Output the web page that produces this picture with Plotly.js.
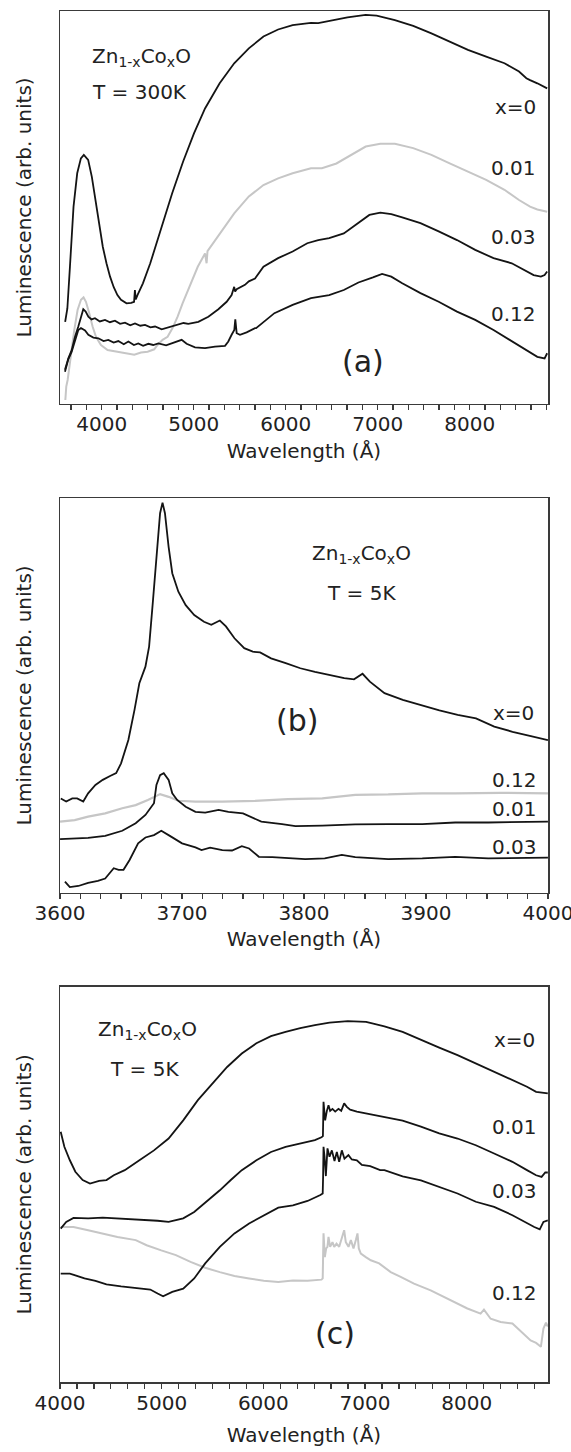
<!DOCTYPE html>
<html>
<head>
<meta charset="utf-8">
<script src="https://cdn.plot.ly/plotly-3.0.1.min.js"></script>
<style>html,body{margin:0;padding:0;background:#fff;}#chart{width:571px;height:1452px;}</style>
</head>
<body>
<div id="chart"></div>
<script>
// ---------- Panel (a): T = 300K ----------
const a_x0_wl  = [3603,3627,3655,3694,3734,3774,3806,3853,3893,3933,3972,4012,4052,4091,4131,4171,4210,4270,4321,4352,4361,4370,4389,4448,4528,4607,4686,4766,4885,5004,5123,5282,5440,5599,5758,5917,6075,6274,6353,6472,6671,6869,6988,7186,7385,7583,7782,7980,8178,8377,8535,8615,8655,8734,8841];
const a_x0_lum = [20.9,24.3,34.9,50.2,58.7,62.5,63.4,62.1,57.8,51.9,46.0,40.0,35.8,32.4,29.7,27.7,26.5,25.6,25.7,26.0,29.0,26.6,27.7,30.7,35.8,41.7,47.7,53.6,61.7,68.9,75.2,81.6,86.7,90.5,93.5,95.3,96.4,97.0,96.9,97.5,98.4,99.0,98.8,97.7,96.2,94.3,92.2,90.1,88.4,86.7,84.6,82.9,82.4,81.6,80.3];

const a_x01_wl  = [3605,3615,3630,3648,3666,3702,3738,3775,3803,3829,3865,3901,3938,3992,4064,4173,4281,4354,4427,4499,4571,4607,4662,4716,4770,4825,4879,4933,4970,5044,5123,5140,5150,5282,5440,5599,5758,5917,6075,6274,6393,6551,6710,6869,7028,7186,7385,7583,7782,7980,8178,8377,8535,8655,8734,8841];
const a_x01_lum = [1.0,4.4,6.1,9.5,12.9,18.8,23.9,26.5,27.1,26.0,23.1,19.7,17.1,15.0,13.7,13.3,12.9,12.5,13.1,13.3,13.9,15.0,16.3,17.1,19.3,22.2,25.6,28.6,30.7,34.9,38.3,35.8,38.9,43.4,48.5,52.8,55.7,57.4,58.7,60.0,60.0,61.2,63.4,65.5,66.2,66.2,65.1,63.4,61.2,59.1,57.0,54.5,51.9,50.2,49.5,48.9];

const a_x03_wl  = [3601,3638,3674,3710,3746,3775,3800,3826,3855,3890,3927,3980,4036,4090,4144,4200,4253,4310,4362,4420,4471,4530,4580,4652,4724,4780,4833,4890,4941,5050,5159,5268,5358,5412,5440,5450,5467,5557,5599,5666,5758,5917,6075,6234,6353,6472,6631,6790,6909,7028,7147,7266,7464,7662,7861,8059,8258,8456,8575,8694,8773,8813,8841];
const a_x03_lum = [8.7,11.6,13.7,17.1,19.7,22.2,24.1,23.5,22.2,21.5,21.8,21.0,21.4,20.8,21.2,20.4,20.7,20.0,20.5,19.9,20.1,19.5,19.7,19.0,19.5,19.8,20.1,20.6,20.4,20.9,22.2,24.1,26.0,27.7,29.8,28.6,29.2,30.3,31.2,31.9,34.9,37.1,38.8,40.9,41.7,42.2,43.4,46.0,48.1,48.7,48.3,47.5,46.0,43.9,41.7,39.2,37.1,35.8,34.3,32.8,32.4,32.8,33.7];

const a_x12_wl  = [3601,3638,3674,3718,3746,3775,3819,3855,3910,3964,4020,4072,4130,4181,4240,4290,4350,4398,4450,4507,4560,4616,4700,4760,4869,4923,5014,5123,5231,5340,5376,5412,5441,5452,5467,5503,5575,5666,5678,5877,6075,6274,6472,6631,6790,6948,7047,7147,7266,7464,7662,7861,8059,8258,8456,8615,8734,8813,8841];
const a_x12_lum = [8.2,11.4,13.3,17.1,18.8,19.3,18.7,17.6,16.9,16.7,16.0,16.3,15.6,16.0,15.2,15.9,15.0,15.4,14.8,15.3,15.0,15.4,14.9,15.4,16.3,15.3,14.4,14.2,14.6,14.8,15.9,17.6,18.8,21.5,18.0,17.6,18.2,19.3,19.3,23.1,25.2,26.9,27.7,29.0,30.9,32.2,33.1,32.4,30.7,28.2,26.0,23.5,21.4,18.8,15.9,13.7,12.0,11.6,12.9];

// ---------- Panel (b): T = 5K, 3600-4000 A ----------
const b_x0_wl  = [3600.6,3605,3610,3614,3619,3623,3629,3635,3641,3646,3650,3656,3661,3665,3670,3673,3676,3679,3682,3684,3686,3689,3692,3697,3703,3710,3718,3724,3731,3736,3743,3751,3758,3764,3773,3785,3797,3809,3821,3833,3841,3848,3854,3866,3881,3896,3911,3926,3941,3956,3971,3986,4000];
const b_x0_lum = [23.9,23.1,23.9,23.9,23.1,25.2,27.3,28.6,29.6,30.3,32.8,38.7,46.3,53.1,57.3,62.4,73.4,86.1,96.2,98.9,96.2,87.7,81.0,76.3,72.9,70.4,68.7,67.9,69.0,67.5,64.5,62.0,61.1,60.9,59.4,58.2,56.9,56.0,55.2,54.4,54.1,55.5,53.5,50.6,48.9,47.6,46.2,45.1,44.2,42.1,40.8,39.7,38.7];

const b_x12_wl  = [3600,3612,3623,3637,3651,3662,3672,3682,3689,3697,3711,3733,3760,3787,3815,3842,3869,3897,3924,3961,4000];
const b_x12_lum = [18.0,18.4,19.3,20.1,21.4,22.2,23.5,25.0,24.3,23.3,23.1,23.1,23.3,23.7,23.9,24.8,24.9,25.2,25.2,25.3,25.2];

const b_x01_wl  = [3600,3612,3623,3637,3651,3662,3670,3677,3679,3682,3685,3689,3692,3696,3703,3711,3719,3730,3738,3750,3757,3765,3782,3793,3815,3842,3869,3897,3924,3951,4000];
const b_x01_lum = [13.6,13.8,13.9,14.4,15.7,17.6,19.7,22.7,27.3,29.8,30.3,28.6,25.2,23.5,21.8,20.5,20.3,21.0,20.5,20.1,19.1,18.0,17.4,16.9,17.0,17.3,17.4,17.4,17.8,17.8,18.0];

const b_x03_wl  = [3604,3608,3615,3623,3631,3637,3644,3648,3652,3657,3664,3670,3677,3683,3690,3700,3711,3716,3723,3733,3741,3749,3755,3763,3774,3801,3817,3831,3842,3869,3897,3924,3951,4000];
const b_x03_lum = [2.8,1.4,1.7,2.5,3.0,3.6,6.2,5.8,5.8,8.3,12.5,14.0,14.6,15.7,14.4,12.5,11.5,10.8,11.4,10.8,10.7,11.8,11.2,9.1,9.0,8.5,8.7,9.6,9.0,8.5,8.7,9.1,8.7,8.9];

// ---------- Panel (c): T = 5K, 4000-8800 A ----------
const c_x0_wl  = [4007,4043,4097,4151,4223,4295,4385,4457,4529,4637,4781,4924,5068,5212,5356,5500,5644,5788,5932,6075,6219,6363,6507,6651,6831,7011,7191,7370,7550,7730,7910,8090,8270,8450,8593,8683,8798];
const c_x0_lum = [63.3,59.5,56.1,53.2,51.1,50.2,50.9,51.1,52.3,53.6,56.1,58.6,61.6,66.2,71.3,75.5,79.7,83.1,85.7,87.5,88.6,89.5,90.3,90.9,91.3,91.1,90.0,88.6,86.5,84.6,82.7,80.6,78.5,76.4,74.7,73.4,73.0];

const c_x01_wl  = [4007,4061,4133,4277,4421,4565,4781,4960,5068,5212,5320,5428,5572,5680,5788,5932,6075,6219,6363,6507,6572,6586,6592,6608,6625,6641,6657,6680,6707,6739,6766,6795,6821,6854,6920,7018,7149,7191,7370,7550,7730,7910,8090,8270,8450,8593,8683,8737,8773,8798];
const c_x01_lum = [38.8,40.5,41.5,41.4,41.6,41.4,41.1,40.8,40.5,41.4,43.0,45.3,48.5,51.1,53.6,56.1,58.2,59.5,60.3,61.2,61.9,62.2,70.9,66.2,68.6,70.0,68.6,69.1,68.4,69.1,68.6,70.5,69.6,68.9,68.4,67.9,67.3,67.1,66.1,64.6,62.9,61.6,59.9,57.8,55.7,53.6,52.3,51.9,53.0,53.0];

const c_x03_wl  = [4007,4097,4151,4241,4349,4457,4601,4781,4888,4960,5014,5104,5212,5320,5428,5572,5716,5860,6004,6147,6291,6435,6561,6584,6588,6592,6602,6615,6631,6651,6674,6700,6723,6746,6772,6798,6837,6870,6920,6969,7051,7149,7191,7370,7550,7730,7910,8090,8270,8450,8593,8665,8719,8755,8798];
const c_x03_lum = [27.4,27.4,27.0,26.2,25.6,24.7,24.2,23.6,23.4,22.4,21.7,22.8,23.6,26.2,30.0,34.2,37.6,40.1,42.2,44.1,44.7,45.8,47.3,47.7,52.0,59.5,57.0,52.1,59.1,57.0,58.6,55.9,58.2,55.7,58.6,56.5,57.4,56.3,56.1,54.9,54.6,53.6,53.6,52.0,51.0,49.4,47.7,45.6,44.3,42.2,40.1,39.2,38.6,40.5,40.9];

const c_x12_wl  = [4007,4133,4277,4421,4565,4745,4852,4996,5140,5284,5428,5572,5716,5860,6004,6147,6291,6435,6572,6584,6592,6605,6618,6631,6641,6657,6680,6697,6720,6746,6779,6795,6811,6838,6861,6887,6910,6926,6939,6959,7008,7057,7139,7253,7351,7482,7646,7810,7941,8007,8137,8170,8236,8334,8450,8557,8629,8683,8730,8755,8780,8798];
const c_x12_lum = [39.2,39.2,38.4,37.6,36.7,35.9,34.6,33.3,32.1,30.4,28.9,27.8,26.8,26.2,25.6,25.3,25.7,25.6,25.9,26.2,37.6,31.6,33.8,34.2,36.7,34.2,35.4,34.2,35.0,34.2,36.7,38.4,35.4,34.2,35.9,33.8,35.9,37.6,33.8,32.5,31.6,30.8,30.0,27.8,26.6,24.9,23.2,21.1,19.4,18.6,17.3,18.3,16.0,15.2,14.8,12.2,10.5,9.9,8.9,13.5,15.0,14.0];

// ---------- Labels ----------
const seriesLabels = ['x=0', '0.01', '0.03', '0.12'];
const compound = 'Zn<sub>1-x</sub>Co<sub>x</sub>O';
const tempLabels = ['T = 300K', 'T = 5K', 'T = 5K'];
const panelLabels = ['(a)', '(b)', '(c)'];
const xTitle = 'Wavelength (Å)';
const yTitle = 'Luminescence (arb. units)';
const xTicksA = [4000, 5000, 6000, 7000, 8000];
const xTicksB = [3600, 3700, 3800, 3900, 4000];
const xTicksC = [4000, 5000, 6000, 7000, 8000];

const BLACK = '#141414', GREY = '#c6c6c6', FRAME = '#3a3a3a', TXT = '#222222';
const FONT = 'DejaVu Sans, Verdana, sans-serif';

function tr(x, y, color, xa, ya, w) {
  return {x: x, y: y, type: 'scatter', mode: 'lines', xaxis: xa, yaxis: ya,
          line: {color: color, width: w || 1.8}, showlegend: false, hoverinfo: 'skip'};
}

const data = [
  tr(a_x01_wl, a_x01_lum, GREY, 'x', 'y', 2.0),
  tr(a_x0_wl, a_x0_lum, BLACK, 'x', 'y'),
  tr(a_x03_wl, a_x03_lum, BLACK, 'x', 'y'),
  tr(a_x12_wl, a_x12_lum, BLACK, 'x', 'y'),
  tr(b_x12_wl, b_x12_lum, GREY, 'x2', 'y2', 2.2),
  tr(b_x0_wl, b_x0_lum, BLACK, 'x2', 'y2'),
  tr(b_x01_wl, b_x01_lum, BLACK, 'x2', 'y2'),
  tr(b_x03_wl, b_x03_lum, BLACK, 'x2', 'y2'),
  tr(c_x12_wl, c_x12_lum, GREY, 'x3', 'y3', 2.0),
  tr(c_x0_wl, c_x0_lum, BLACK, 'x3', 'y3'),
  tr(c_x01_wl, c_x01_lum, BLACK, 'x3', 'y3'),
  tr(c_x03_wl, c_x03_lum, BLACK, 'x3', 'y3')
];

function xax(range, ticks, minorStep, dom, standoff, tls) {
  return {
    domain: [0, 1], anchor: dom, range: range,
    tickmode: 'array', tickvals: ticks, ticktext: ticks.map(String),
    ticks: 'outside', ticklen: 5, tickwidth: 1.3, tickcolor: FRAME,
    ticklabelstandoff: tls, ticklabeloverflow: 'allow',
    minor: {tickmode: 'linear', tick0: ticks[0], dtick: minorStep, ticks: 'outside', ticklen: 5, tickwidth: 1.3, tickcolor: FRAME, showgrid: false},
    showline: true, mirror: true, linecolor: FRAME, linewidth: 1.5,
    showgrid: false, zeroline: false,
    tickfont: {family: FONT, size: 20, color: TXT},
    title: {text: xTitle, font: {family: FONT, size: 20, color: TXT}, standoff: standoff}
  };
}
function yax(domain, anchor) {
  return {
    domain: domain, anchor: anchor, range: [0, 100],
    showticklabels: false, ticks: '', showgrid: false, zeroline: false,
    showline: true, mirror: true, linecolor: FRAME, linewidth: 1.5,
    title: {text: yTitle, font: {family: FONT, size: 20, color: TXT}, standoff: 21}
  };
}

function ann(xref, yref, x, y, text, xanchor, size) {
  return {xref: xref, yref: yref, x: x, y: y, text: text, showarrow: false,
          xanchor: xanchor, yanchor: 'middle', font: {family: FONT, size: size || 20, color: TXT}};
}

const annotations = [
  // (a)
  ann('x', 'y', 3877, 88.3, compound, 'left'),
  ann('x', 'y', 3877, 79.3, tempLabels[0], 'left'),
  ann('x', 'y', 8741, 75.6, seriesLabels[0], 'right'),
  ann('x', 'y', 8741, 60.1, seriesLabels[1], 'right'),
  ann('x', 'y', 8741, 42.5, seriesLabels[2], 'right'),
  ann('x', 'y', 8741, 22.9, seriesLabels[3], 'right'),
  ann('x', 'y', 6840, 10.7, panelLabels[0], 'center', 30),
  // (b)
  ann('x2', 'y2', 3847.5, 85.8, compound, 'center'),
  ann('x2', 'y2', 3847.5, 76.1, tempLabels[1], 'center'),
  ann('x2', 'y2', 3990.2, 45.6, seriesLabels[0], 'right'),
  ann('x2', 'y2', 3992.6, 28.6, seriesLabels[3], 'right'),
  ann('x2', 'y2', 3992.6, 21.1, seriesLabels[1], 'right'),
  ann('x2', 'y2', 3992.6, 11.7, seriesLabels[2], 'right'),
  ann('x2', 'y2', 3794.3, 43.6, panelLabels[1], 'center', 30),
  // (c)
  ann('x3', 'y3', 4353, 89.0, compound, 'left'),
  ann('x3', 'y3', 4831, 79.3, tempLabels[2], 'center'),
  ann('x3', 'y3', 8692, 86.5, seriesLabels[0], 'right'),
  ann('x3', 'y3', 8711, 64.6, seriesLabels[1], 'right'),
  ann('x3', 'y3', 8711, 48.4, seriesLabels[2], 'right'),
  ann('x3', 'y3', 8711, 22.4, seriesLabels[3], 'right'),
  ann('x3', 'y3', 6705, 12.3, panelLabels[2], 'center', 30)
];

const layout = {
  width: 571, height: 1452,
  margin: {l: 60, r: 23, t: 11, b: 70},
  paper_bgcolor: '#ffffff', plot_bgcolor: '#ffffff',
  font: {family: FONT, color: TXT},
  showlegend: false,
  xaxis:  xax([3547, 8850], xTicksA, 1000/6, 'y', 8, -3),
  xaxis2: xax([3599.95, 4000.05], xTicksB, 100/6, 'y2', 8, -3),
  xaxis3: xax([4000, 8800], xTicksC, 1000/6, 'y3', 14, -3),
  yaxis:  yax([0.7134, 1.0], 'x'),
  yaxis2: yax([0.3569, 0.6446], 'x2'),
  yaxis3: yax([0.0, 0.2883], 'x3'),
  annotations: annotations
};

Plotly.newPlot('chart', data, layout, {staticPlot: true, displayModeBar: false});
</script>
</body>
</html>
